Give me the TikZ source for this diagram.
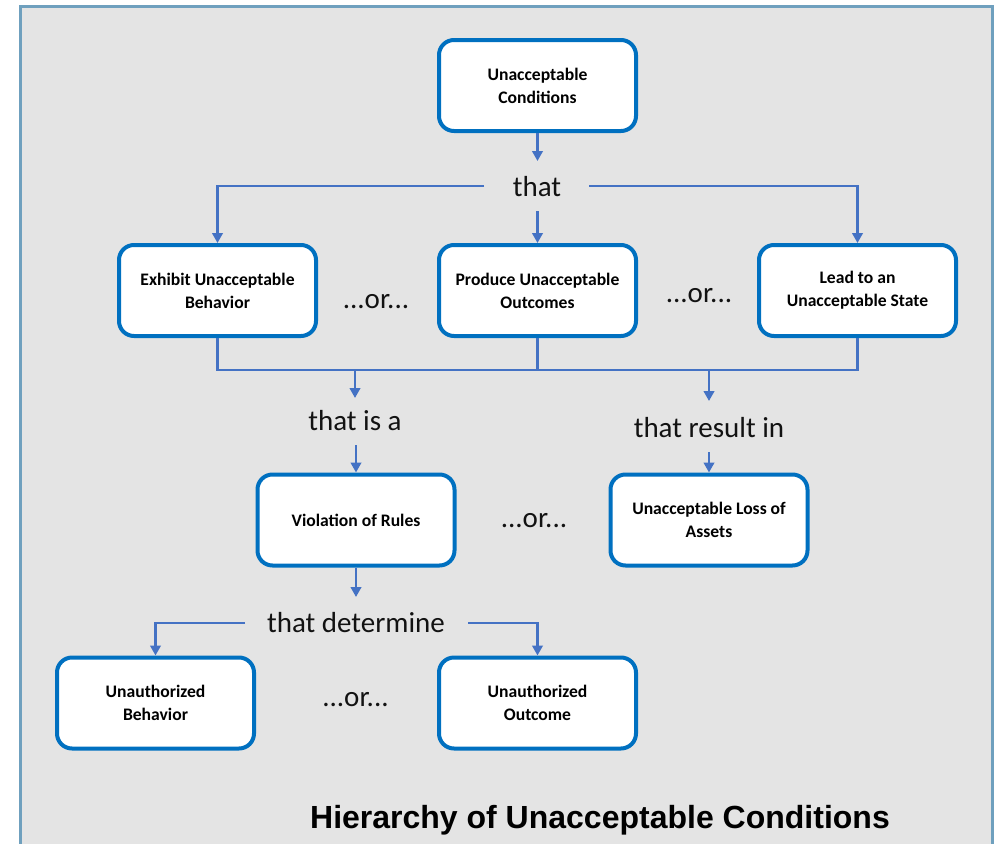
\documentclass[tikz,border=0pt]{standalone}
\usepackage{fontspec}
\setmainfont{Carlito}
\newfontfamily\titlefont{Liberation Sans}
\usetikzlibrary{arrows.meta}
\definecolor{panelfill}{HTML}{E4E4E4}
\definecolor{panelborder}{HTML}{6FA0BE}
\definecolor{boxborder}{HTML}{0070C0}
\definecolor{conn}{HTML}{4472C4}
\begin{document}
\begin{tikzpicture}[x=1pt,y=-1pt,
  box/.style={draw=boxborder, line width=4pt, fill=white, rounded corners=15pt,
    minimum width=197pt, minimum height=91pt, align=center, inner sep=0pt,
    font=\fontsize{17.6}{23}\selectfont\bfseries},
  lbl/.style={font=\fontsize{29}{33}\selectfont, inner sep=0pt, text=black!93},
  conline/.style={draw=conn, line width=2.5pt},
  arr/.style={conline, -{Triangle[length=10pt,width=10.5pt]}}
]
\useasboundingbox (0,0) rectangle (997,844);
\clip (0,0) rectangle (997,844);
\fill[white] (0,0) rectangle (997,844);
\draw[panelborder, fill=panelfill, line width=3pt] (20.7,6) rectangle (992,860);

% boxes
\node[box] (uc) at (537.5,85.5) {Unacceptable\\Conditions};
\node[box] (exhibit) at (217.5,290.5) {Exhibit Unacceptable\\Behavior};
\node[box] (produce) at (537.5,290.5) {Produce Unacceptable\\Outcomes};
\node[box] (lead) at (857.5,290.5) {Lead to an\\Unacceptable State};
\node[box] (viol) at (356,520) {Violation of Rules};
\node[box] (loss) at (709,520) {Unacceptable Loss of\\Assets};
\node[box] (ub) at (155.5,703) {Unauthorized\\Behavior};
\node[box] (uo) at (537.5,703) {Unauthorized\\Outcome};

% labels
\node[lbl] (that) at (537,186.5) {that};
\node[lbl] (or1) at (376,301.5) {...or...};
\node[lbl] (or2) at (699,296) {...or...};
\node[lbl] (thatis) at (355,421) {that is a};
\node[lbl] (thatres) at (709,428) {that result in};
\node[lbl] (or3) at (534,521) {...or...};
\node[lbl] (thatdet) at (356,623) {that determine};
\node[lbl] (or4) at (355.5,700) {...or...};
\node[font=\titlefont\fontsize{32}{36}\selectfont\bfseries, inner sep=0pt, anchor=base] (title) at (600,828) {Hierarchy of Unacceptable Conditions};

% connector coordinates
\coordinate (t1) at (537.5,161);
\coordinate (s1) at (537.5,211);
\coordinate (tl) at (484,186);
\coordinate (tr) at (589,186);
\coordinate (m1) at (537.5,370);
\coordinate (m2) at (355,370);
\coordinate (m2t) at (355,398);
\coordinate (m3) at (709,370);
\coordinate (m3t) at (709,401);
\coordinate (s2) at (356,445);
\coordinate (s3) at (709,452);
\coordinate (t4) at (356,597);
\coordinate (dl) at (245,623);
\coordinate (dr) at (468,623);

% connectors
\draw[arr] (uc.south) -- (t1);
\draw[arr] (s1) -- (produce.north);
\draw[arr] (tl) -| (exhibit.north);
\draw[arr] (tr) -| (lead.north);
\draw[conline] (exhibit.south) |- (m1) -| (lead.south);
\draw[conline] (produce.south) -- (m1);
\draw[arr] (m2) -- (m2t);
\draw[arr] (m3) -- (m3t);
\draw[arr] (s2) -- (viol.north);
\draw[arr] (s3) -- (loss.north);
\draw[arr] (viol.south) -- (t4);
\draw[arr] (dl) -| (ub.north);
\draw[arr] (dr) -| (uo.north);
\end{tikzpicture}
\end{document}
